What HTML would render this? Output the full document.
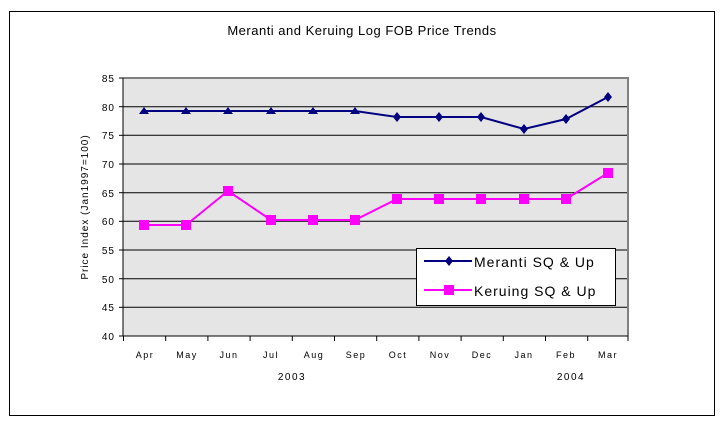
<!DOCTYPE html>
<html><head><style>body{margin:0;background:#fff}svg{display:block}text{font-family:"Liberation Sans",sans-serif;fill:#000}</style></head>
<body>
<svg width="724" height="429" xmlns="http://www.w3.org/2000/svg">
<rect x="9.5" y="11.5" width="705" height="404" fill="#fff" stroke="#000" stroke-width="1"/>
<text x="362" y="35" font-size="13" text-anchor="middle" letter-spacing="0.5">Meranti and Keruing Log FOB Price Trends</text>
<rect x="123" y="78" width="505" height="258" fill="#e5e5e5"/>
<g stroke="#000" stroke-width="1">
<line x1="123" y1="106.7" x2="628" y2="106.7"/><line x1="123" y1="135.3" x2="628" y2="135.3"/>
<line x1="123" y1="164" x2="628" y2="164"/><line x1="123" y1="192.7" x2="628" y2="192.7"/>
<line x1="123" y1="221.3" x2="628" y2="221.3"/><line x1="123" y1="250" x2="628" y2="250"/>
<line x1="123" y1="278.7" x2="628" y2="278.7"/><line x1="123" y1="307.3" x2="628" y2="307.3"/>
</g>
<path d="M123 78H628V336" fill="none" stroke="#808080" stroke-width="2"/>
<path d="M123 78V336H628" fill="none" stroke="#000" stroke-width="1"/>
<g stroke="#000"><line x1="119" y1="78" x2="123" y2="78"/><line x1="119" y1="106.7" x2="123" y2="106.7"/><line x1="119" y1="135.3" x2="123" y2="135.3"/><line x1="119" y1="164" x2="123" y2="164"/><line x1="119" y1="192.7" x2="123" y2="192.7"/><line x1="119" y1="221.3" x2="123" y2="221.3"/><line x1="119" y1="250" x2="123" y2="250"/><line x1="119" y1="278.7" x2="123" y2="278.7"/><line x1="119" y1="307.3" x2="123" y2="307.3"/><line x1="119" y1="336" x2="123" y2="336"/>
<line x1="123.5" y1="336" x2="123.5" y2="341"/><line x1="165.7" y1="336" x2="165.7" y2="341"/><line x1="207.9" y1="336" x2="207.9" y2="341"/><line x1="250.1" y1="336" x2="250.1" y2="341"/><line x1="292.3" y1="336" x2="292.3" y2="341"/><line x1="334.5" y1="336" x2="334.5" y2="341"/><line x1="376.7" y1="336" x2="376.7" y2="341"/><line x1="418.9" y1="336" x2="418.9" y2="341"/><line x1="461.1" y1="336" x2="461.1" y2="341"/><line x1="503.3" y1="336" x2="503.3" y2="341"/><line x1="545.5" y1="336" x2="545.5" y2="341"/><line x1="587.7" y1="336" x2="587.7" y2="341"/><line x1="628" y1="336" x2="628" y2="341"/></g>
<g font-size="10" text-anchor="end" letter-spacing="1">
<text x="115" y="82">85</text><text x="115" y="111">80</text><text x="115" y="139">75</text><text x="115" y="168">70</text><text x="115" y="197">65</text><text x="115" y="225">60</text><text x="115" y="254">55</text><text x="115" y="283">50</text><text x="115" y="311">45</text><text x="115" y="340">40</text></g>
<g font-size="9" text-anchor="middle" letter-spacing="1.5">
<text x="145" y="358">Apr</text><text x="187" y="358">May</text><text x="229" y="358">Jun</text><text x="271" y="358">Jul</text><text x="314" y="358">Aug</text><text x="356" y="358">Sep</text><text x="398" y="358">Oct</text><text x="440" y="358">Nov</text><text x="482" y="358">Dec</text><text x="524" y="358">Jan</text><text x="566" y="358">Feb</text><text x="608" y="358">Mar</text>
<text x="292" y="380" font-size="10">2003</text><text x="571" y="380" font-size="10">2004</text></g>
<text transform="translate(88,207) rotate(-90)" font-size="10" text-anchor="middle" letter-spacing="1">Price Index (Jan1997=100)</text>
<polyline fill="none" stroke="#000080" stroke-width="2" points="144,111 186,111 228,111 271,111 313,111 355,111 397,117 439,117 481,117 524,129 566,119 608,97"/>
<g fill="#000080"><path d="M139,114L144,107L149,114Z"/><path d="M181,114L186,107L191,114Z"/><path d="M223,114L228,107L233,114Z"/><path d="M266,114L271,107L276,114Z"/><path d="M308,114L313,107L318,114Z"/><path d="M350,114L355,107L360,114Z"/>
<path d="M397,112L401,117L397,122L393,117Z"/><path d="M439,112L443,117L439,122L435,117Z"/><path d="M481,112L485,117L481,122L477,117Z"/><path d="M524,124L528,129L524,134L520,129Z"/><path d="M566,114L570,119L566,124L562,119Z"/><path d="M608,92L612,97L608,102L604,97Z"/></g>
<polyline fill="none" stroke="#ff00ff" stroke-width="2" points="144,225 186,225 228,191 271,220 313,220 355,220 397,199 439,199 481,199 524,199 566,199 608,173"/>
<g fill="#ff00ff"><rect x="139" y="220" width="10" height="10"/><rect x="181" y="220" width="10" height="10"/><rect x="223" y="186" width="10" height="10"/><rect x="266" y="215" width="10" height="10"/><rect x="308" y="215" width="10" height="10"/><rect x="350" y="215" width="10" height="10"/><rect x="392" y="194" width="10" height="10"/><rect x="434" y="194" width="10" height="10"/><rect x="476" y="194" width="10" height="10"/><rect x="519" y="194" width="10" height="10"/><rect x="561" y="194" width="10" height="10"/><rect x="603" y="168" width="10" height="10"/></g>
<rect x="416.5" y="248.5" width="199" height="57" fill="#fff" stroke="#000"/>
<line x1="424" y1="261" x2="472" y2="261" stroke="#000080" stroke-width="2"/><path d="M449,256L453,261L449,266L445,261Z" fill="#000080"/>
<line x1="424" y1="290" x2="472" y2="290" stroke="#ff00ff" stroke-width="2"/><rect x="444" y="285" width="10" height="10" fill="#ff00ff"/>
<text x="474" y="267" font-size="14" letter-spacing="1">Meranti SQ &amp; Up</text>
<text x="474" y="296" font-size="14" letter-spacing="1">Keruing SQ &amp; Up</text>
</svg>
</body></html>
